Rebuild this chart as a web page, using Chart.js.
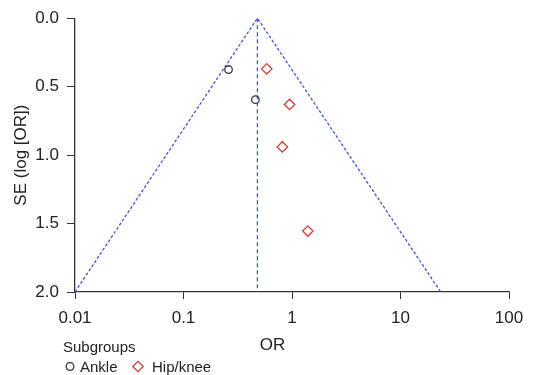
<!DOCTYPE html>
<html>
<head>
<meta charset="utf-8">
<script src="https://cdn.jsdelivr.net/npm/chart.js@4/dist/chart.umd.min.js"></script>
<style>
  html, body { margin: 0; padding: 0; background: #fff; }
  #wrap { width: 545px; height: 375px; }
</style>
</head>
<body>
<div id="wrap"><canvas id="container"></canvas></div>
<script>
// values
const ankleOR = [0.26, 0.46];
const ankleSE = [0.375, 0.595];
const hipKneeOR = [0.585, 0.95, 0.815, 1.40];
const hipKneeSE = [0.37, 0.63, 0.94, 1.555];
const funnelOR = [0.01, 0.48, 23.5];
const funnelSE = [2.0, 0.0, 2.0];
const pooledOR = [0.48, 0.48];
const pooledSE = [0.0, 2.0];
const xTicks = [0.01, 0.1, 1, 10, 100];
const yTicks = [0, 0.5, 1, 1.5, 2];
const groupLabels = ['Ankle', 'Hip/knee'];

const FONT = '"Liberation Sans", Arial, sans-serif';
const TEXT = '#222';
const AXIS = '#333';
const BLUE = '#4356d2';

function pts(xs, ys) {
  return xs.map((x, i) => ({ x: x, y: ys[i] }));
}

const legendPlugin = {
  id: 'subgroupLegend',
  afterDraw(chart) {
    const ctx = chart.ctx;
    ctx.save();
    ctx.fillStyle = TEXT;
    ctx.textBaseline = 'alphabetic';
    ctx.font = '17px ' + FONT;
    ctx.textAlign = 'center';
    ctx.fillText('OR', chart.width / 2, 350);

    ctx.textAlign = 'left';
    ctx.font = '15px ' + FONT;
    ctx.fillText('Subgroups', 63, 352);

    const items = [
      { ds: chart.data.datasets[0], sx: 70, tx: 80 },
      { ds: chart.data.datasets[1], sx: 138, tx: 152 }
    ];
    items.forEach(it => {
      ctx.strokeStyle = it.ds.borderColor;
      ctx.fillStyle = 'rgba(0,0,0,0)';
      ctx.lineWidth = it.ds.borderWidth;
      Chart.helpers.drawPoint(ctx, {
        pointStyle: it.ds.pointStyle,
        radius: it.ds.pointRadius,
        borderWidth: it.ds.borderWidth,
        rotation: 0
      }, it.sx, 366.5);
      ctx.fillStyle = TEXT;
      ctx.fillText(it.ds.label, it.tx, 372);
    });
    ctx.restore();
  }
};

new Chart(document.getElementById('container'), {
  type: 'scatter',
  data: {
    datasets: [
      {
        label: groupLabels[0],
        data: pts(ankleOR, ankleSE),
        pointStyle: 'circle',
        pointRadius: 3.8,
        borderColor: '#333',
        backgroundColor: 'rgba(0,0,0,0)',
        borderWidth: 1.3
      },
      {
        label: groupLabels[1],
        data: pts(hipKneeOR, hipKneeSE),
        pointStyle: 'rectRot',
        pointRadius: 5.2,
        borderColor: '#d63a30',
        backgroundColor: 'rgba(0,0,0,0)',
        borderWidth: 1.3
      },
      {
        type: 'line',
        label: 'funnel',
        data: pts(funnelOR, funnelSE),
        borderColor: BLUE,
        borderWidth: 1.3,
        borderDash: [3, 2],
        pointRadius: 0,
        fill: false
      },
      {
        type: 'line',
        label: 'pooled',
        data: pts(pooledOR, pooledSE),
        borderColor: BLUE,
        borderWidth: 1.3,
        borderDash: [4, 3],
        pointRadius: 0,
        fill: false
      }
    ]
  },
  options: {
    responsive: true,
    maintainAspectRatio: false,
    animation: false,
    layout: { padding: { top: 17, right: 36, bottom: 0, left: 0 } },
    plugins: { legend: { display: false }, tooltip: { enabled: false } },
    scales: {
      x: {
        type: 'logarithmic',
        min: 0.01,
        max: 100,
        afterBuildTicks: axis => { axis.ticks = xTicks.map(v => ({ value: v })); },
        afterFit: axis => { axis.height = 83; },
        ticks: {
          color: TEXT,
          font: { family: FONT, size: 17 },
          padding: 9,
          maxRotation: 0,
          callback: v => String(v)
        },
        grid: { display: true, drawOnChartArea: false, drawTicks: true, tickLength: 7, color: AXIS, lineWidth: 1 },
        border: { display: true, color: AXIS, width: 1.3 }
      },
      y: {
        reverse: true,
        min: 0,
        max: 2,
        afterBuildTicks: axis => { axis.ticks = yTicks.map(v => ({ value: v })); },
        afterFit: axis => { axis.width = 75; },
        ticks: {
          color: TEXT,
          font: { family: FONT, size: 17 },
          padding: 8,
          callback: v => Number(v).toFixed(1)
        },
        title: {
          display: true,
          text: 'SE (log [OR])',
          color: TEXT,
          font: { family: FONT, size: 17 },
          padding: { top: 11, bottom: 0 }
        },
        grid: { display: true, drawOnChartArea: false, drawTicks: true, tickLength: 8, color: AXIS, lineWidth: 1 },
        border: { display: true, color: AXIS, width: 1.3 }
      }
    }
  },
  plugins: [legendPlugin]
});
</script>
</body>
</html>
